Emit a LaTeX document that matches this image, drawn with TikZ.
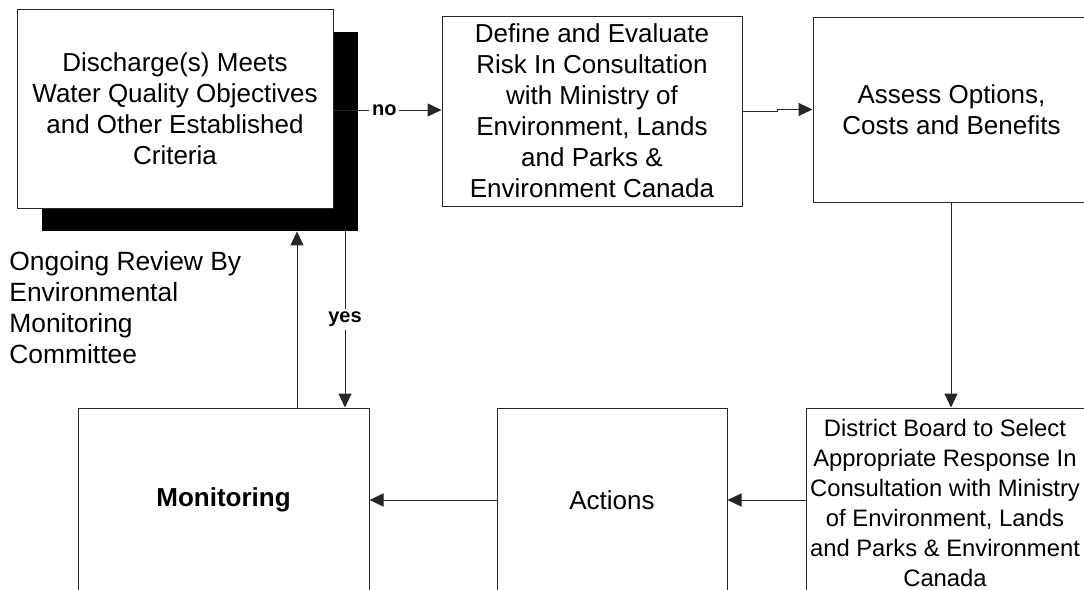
\documentclass[tikz,border=0pt]{standalone}
\usepackage{fontspec}
\setmainfont{Liberation Sans}
\usetikzlibrary{arrows.meta,calc}
\tikzset{
  box/.style={draw=black!85, line width=0.5pt, fill=white, align=center, inner sep=0pt,
    font=\fontsize{13pt}{15.5pt}\selectfont},
  frame/.style={draw=black!85, line width=0.5pt, fill=white, inner sep=0pt},
  smalltext/.style={align=center, inner sep=0pt, font=\fontsize{11.9pt}{15pt}\selectfont},
  shadowbox/.style={fill=black, draw=none, inner sep=0pt},
  conn/.style={line width=0.5pt, draw=black!85, -{Triangle[length=7pt,width=6.5pt]}},
  lbl/.style={fill=white, inner sep=1.5pt, font=\bfseries\fontsize{10pt}{12pt}\selectfont},
  freetext/.style={align=left, inner sep=0pt, font=\fontsize{13.2pt}{15.5pt}\selectfont}
}
\begin{document}
\begin{tikzpicture}[x=0.5pt,y=-0.5pt]
\clip (0,0) rectangle (1084,590);
\fill[white] (0,0) rectangle (1084,590);
% shadow and first box
\node[shadowbox, minimum width=158pt, minimum height=99.5pt] (shd) at (200,131.5) {};
\node[box, minimum width=158pt, minimum height=99.5pt] (dis) at (175,108.5)
  {Discharge(s) Meets\\Water Quality Objectives\\and Other Established\\Criteria};
\node[box, minimum width=150pt, minimum height=95pt] (def) at (592,111)
  {Define and Evaluate\\Risk In Consultation\\with Ministry of\\Environment, Lands\\and Parks \&\\Environment Canada};
\node[box, minimum width=138.5pt, minimum height=92.5pt] (ass) at (951.5,109.5)
  {Assess Options,\\Costs and Benefits};
\node[frame, minimum width=145pt, minimum height=95pt] (dst) at (951,503) {};
\node[smalltext] (dsttxt) at (945,503)
  {District Board to Select\\Appropriate Response In\\Consultation with Ministry\\of Environment, Lands\\and Parks \& Environment\\Canada};
\node[box, minimum width=115pt, minimum height=92pt] (act) at (612,500) {Actions};
\node[box, minimum width=145.5pt, minimum height=92pt, font=\bfseries\fontsize{13pt}{15.5pt}\selectfont] (mon) at (223.5,500) {Monitoring};
\node[freetext, anchor=west] (ong) at (9,308)
  {Ongoing Review By\\Environmental\\Monitoring\\Committee};
% connectors
\draw[conn] (dis.east |- 0,110) -- node[lbl, pos=0.47] (no) {no} (def.west |- 0,110);
\draw[conn] (def.east) -- ++(35,0) |- (ass.west);
\draw[conn] (ass.south -| dst.north) -- (dst.north);
\draw[conn] (act.east -| dst.west) -- (act.east);
\draw[conn] (act.west) -- (mon.east);
\coordinate (upx) at (297,0);
\coordinate (dnx) at (345,0);
\draw[conn] (mon.north -| upx) -- (upx |- shd.south);
\draw[conn] (dnx |- shd.south) -- node[lbl] (yes) {yes} (mon.north -| dnx);
\end{tikzpicture}
\end{document}
